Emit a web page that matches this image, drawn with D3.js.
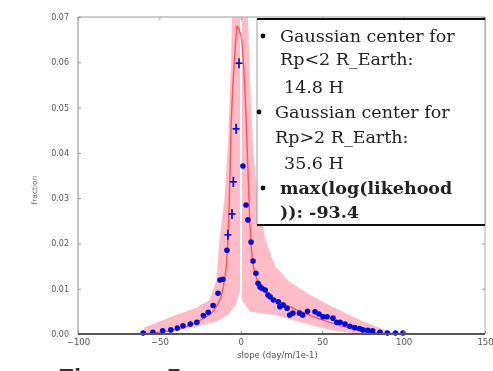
<!DOCTYPE html>
<html><head><meta charset="utf-8">
<script src="https://cdn.jsdelivr.net/npm/d3@7"></script>
<style>html,body{margin:0;padding:0;background:#fff;}svg{display:block;}</style>
</head><body>
<script>
// ---- data ----
const xTicks = [-100, -50, 0, 50, 100, 150];
const yTicks = [0, 0.01, 0.02, 0.03, 0.04, 0.05, 0.06, 0.07];
const yTickLabels = ["0.00","0.01","0.02","0.03","0.04","0.05","0.06","0.07"];
const xLabel = "slope (day/m/1e-1)";
const yLabel = "fraction";

// pink model envelopes (x, y)
const leftBandX = [-62,-59,-40,-28,-19,-15,-13,-10,-8,-6,-5.4,-0.5,-0.5,-3,-7.9,-15.8,-31,-49.6,-62];
const leftBandY = [0,0.0015,0.0042,0.0057,0.0075,0.012,0.021,0.030,0.041,0.060,0.07,0.07,0.0097,0.0064,0.0042,0.0026,0.0013,0.0002,0];
const rightBandX = [0.7,4.4,5.6,7.5,10.5,15,21,30,42.5,58,73,88.6,98,73,54.8,36.4,21,5.6,0.7,0.7];
const rightBandY = [0.07,0.07,0.056,0.041,0.030,0.021,0.015,0.0115,0.0086,0.0057,0.0031,0.0009,0,0,0.0009,0.0026,0.0042,0.0049,0.0075,0.07];

// red model curves
const redLeftX = [-62,-40,-25,-15,-10,-8,-7,-6,-4,-2.5];
const redLeftY = [0,0.001,0.003,0.006,0.012,0.02,0.03,0.045,0.06,0.068];
const redRightX = [-2.5,0,3,4.5,5.5,7,10,15,25,40,55,70,85,100];
const redRightY = [0.068,0.066,0.05,0.035,0.025,0.017,0.012,0.0095,0.007,0.0045,0.0025,0.001,0.0002,0];

// observed distribution (blue)
const obsX = [-60,-54,-48,-43,-39,-35.5,-31,-27,-23,-20,-17,-14,-12.8,-11,-8.5,-7.9,-5.4,-4.6,-2.9,-1.1,
              1.3,3.2,4.4,6.3,7.5,9.3,10.6,11.8,13,15,16.7,18,20,23,24,26,28.4,30,32,36,38,41,45.6,
              48,50.5,53,56.6,59,61,64,67,70,73,75,78,81,85.5,90,95,99.6];
const obsY = [0.0002,0.0004,0.0007,0.0009,0.0013,0.0018,0.0022,0.0026,0.0041,0.0048,0.0063,0.009,0.0119,0.0121,0.0185,0.0219,0.0265,0.0336,0.0453,0.0598,
              0.0371,0.0285,0.0252,0.0203,0.0161,0.0134,0.0112,0.0104,0.0101,0.0097,0.0086,0.0082,0.0075,0.0071,0.006,0.0064,0.0057,0.0042,0.0046,0.0046,0.0042,0.0050,0.0049,
              0.0044,0.0038,0.0038,0.0035,0.0026,0.0026,0.0022,0.0017,0.0014,0.0012,0.0009,0.0008,0.0007,0.0004,0.0002,0.0002,0.0002];
const obsMarker = obsX.map((x,i)=> (x>-8 && x<0) ? "plus" : "dot");

const legendLines = [
  {bullet:true,  text:"Gaussian center for", indent:0, bold:false},
  {bullet:false, text:"Rp<2 R_Earth:", indent:0, bold:false},
  {bullet:false, text:"14.8 H", indent:1, bold:false},
  {bullet:true,  text:"Gaussian center for", indent:-1, bold:false},
  {bullet:false, text:"Rp>2 R_Earth:", indent:-1, bold:false},
  {bullet:false, text:"35.6 H", indent:1, bold:false},
  {bullet:true,  text:"max(log(likehood", indent:0, bold:true},
  {bullet:false, text:")): -93.4", indent:0, bold:true}
];

// ---- layout ----
const W = 493, H = 371;
const m = {left:78, right:485, top:17, bottom:334};
const svg = d3.select("body").append("svg").attr("width", W).attr("height", H);
const defs = svg.append("defs");
defs.append("filter").attr("id","soft").append("feGaussianBlur").attr("stdDeviation",0.65);

const x = d3.scaleLinear().domain([-100,150]).range([m.left, m.right]);
const y = d3.scaleLinear().domain([0,0.07]).range([m.bottom, m.top]);

const g = svg.append("g").attr("filter","url(#soft)");

// pink bands
const poly = d3.line().x(d=>x(d[0])).y(d=>y(d[1])).curve(d3.curveLinearClosed);
g.append("path").datum(d3.zip(leftBandX,leftBandY)).attr("d",poly)
  .attr("fill","#ffbcc6").attr("stroke","none");
g.append("path").datum(d3.zip(rightBandX,rightBandY)).attr("d",poly)
  .attr("fill","#ffbcc6").attr("stroke","none");

// red curves
const ln = d3.line().x(d=>x(d[0])).y(d=>y(d[1])).curve(d3.curveMonotoneX);
[[redLeftX,redLeftY],[redRightX,redRightY]].forEach(([xs,ys])=>{
  g.append("path").datum(d3.zip(xs,ys)).attr("d",ln)
    .attr("fill","none").attr("stroke","#ff3b3b").attr("stroke-width",1.4).attr("opacity",0.8);
});

// blue points
const pts = d3.zip(obsX,obsY,obsMarker);
g.selectAll("circle.obs").data(pts.filter(d=>d[2]==="dot")).join("circle")
  .attr("cx",d=>x(d[0])).attr("cy",d=>y(d[1])).attr("r",2.8).attr("fill","#0010d8");
const plus = g.selectAll("g.plus").data(pts.filter(d=>d[2]==="plus")).join("g")
  .attr("transform",d=>`translate(${x(d[0])},${y(d[1])})`);
plus.append("line").attr("x1",-3.5).attr("x2",3.5).attr("stroke","#0010d8").attr("stroke-width",1.7);
plus.append("line").attr("y1",-5).attr("y2",5).attr("stroke","#0010d8").attr("stroke-width",1.7);

// axes box
const axG = svg.append("g").attr("filter","url(#soft)");
axG.append("line").attr("x1",m.left).attr("x2",m.right).attr("y1",m.top).attr("y2",m.top)
  .attr("stroke","#bbb").attr("stroke-width",1.5);
axG.append("line").attr("x1",m.right).attr("x2",m.right).attr("y1",m.top).attr("y2",m.bottom)
  .attr("stroke","#bbb").attr("stroke-width",1.2);
axG.append("line").attr("x1",m.left).attr("x2",m.left).attr("y1",m.top).attr("y2",m.bottom)
  .attr("stroke","#c4c4c4").attr("stroke-width",2);

// ticks (inward) via d3 axes
const yAxis = d3.axisLeft(y).tickValues(yTicks).tickFormat((d,i)=>yTickLabels[i]).tickSize(-3).tickPadding(9);
const yA = axG.append("g").attr("transform",`translate(${m.left},0)`).call(yAxis);
yA.select(".domain").remove();
yA.selectAll("line").attr("stroke","#999");
yA.selectAll("text").attr("fill","#555").attr("font-family","DejaVu Sans, sans-serif").attr("font-size",8);

const yAxisR = d3.axisRight(y).tickValues(yTicks).tickFormat("").tickSize(-3);
const yR = axG.append("g").attr("transform",`translate(${m.right},0)`).call(yAxisR);
yR.select(".domain").remove(); yR.selectAll("line").attr("stroke","#999");

const xAxis = d3.axisBottom(x).tickValues(xTicks).tickFormat(d=> d<0 ? "\u2212"+Math.abs(d) : d).tickSize(-3).tickPadding(5);
const xA = axG.append("g").attr("transform",`translate(0,${m.bottom})`).call(xAxis);
xA.select(".domain").remove();
xA.selectAll("line").attr("stroke","#999");
xA.selectAll("text").attr("fill","#555").attr("font-family","DejaVu Sans, sans-serif").attr("font-size",8.5);

const xAxisT = d3.axisTop(x).tickValues(xTicks).tickFormat("").tickSize(-3);
const xT = axG.append("g").attr("transform",`translate(0,${m.top})`).call(xAxisT);
xT.select(".domain").remove(); xT.selectAll("line").attr("stroke","#999");

axG.append("line").attr("x1",m.left).attr("x2",m.right).attr("y1",m.bottom).attr("y2",m.bottom)
  .attr("stroke","#555").attr("stroke-width",2);

// axis labels
axG.append("text").attr("x",(x(0)+x(50))/2 - 4).attr("y",358).attr("text-anchor","middle")
  .attr("font-family","DejaVu Sans, sans-serif").attr("font-size",8.5).attr("fill","#555").text(xLabel);
axG.append("text").attr("transform","translate(37,190) rotate(-90)").attr("text-anchor","middle")
  .attr("font-family","DejaVu Sans, sans-serif").attr("font-size",7.5).attr("fill","#666").text(yLabel);

// legend box
const lg = svg.append("g").attr("filter","url(#soft)");
const lx0 = 257, lx1 = 485, ly0 = 19, ly1 = 225;
lg.append("rect").attr("x",lx0).attr("y",ly0).attr("width",lx1-lx0).attr("height",ly1-ly0)
  .attr("fill","#fff").attr("stroke","#888").attr("stroke-width",0.8);
lg.append("line").attr("x1",lx0).attr("x2",lx1).attr("y1",ly0).attr("y2",ly0).attr("stroke","#111").attr("stroke-width",2);
lg.append("line").attr("x1",lx0).attr("x2",lx1).attr("y1",ly1).attr("y2",ly1).attr("stroke","#111").attr("stroke-width",2);
const baseY = [42,65,93,118,143,169,194,218];
const bulletX = [263,263,263,259,259,259,263,263];
const textX = {0:280, 1:284, "-1":275};
legendLines.forEach((l,i)=>{
  if(l.bullet){
    lg.append("circle").attr("cx",bulletX[i]).attr("cy",baseY[i]-6).attr("r",2.4).attr("fill","#111");
  }
  lg.append("text").attr("x",textX[l.indent]).attr("y",baseY[i])
    .attr("font-family","DejaVu Serif, serif").attr("font-size",17.5)
    .attr("font-weight",l.bold?"bold":"normal").attr("fill","#222")
    .text(l.text);
});

// fragments of surrounding document
svg.append("text").attr("x",-3).attr("y",342).attr("font-family","DejaVu Sans, sans-serif")
  .attr("font-size",9).attr("fill","#666").text(")");
svg.append("text").attr("x",58).attr("y",387).attr("font-family","Liberation Sans, sans-serif")
  .attr("font-size",26).attr("font-weight","bold").attr("word-spacing",22).attr("fill","#333")
  .attr("filter","url(#soft)").text("Figure 5");
</script>
</body></html>
